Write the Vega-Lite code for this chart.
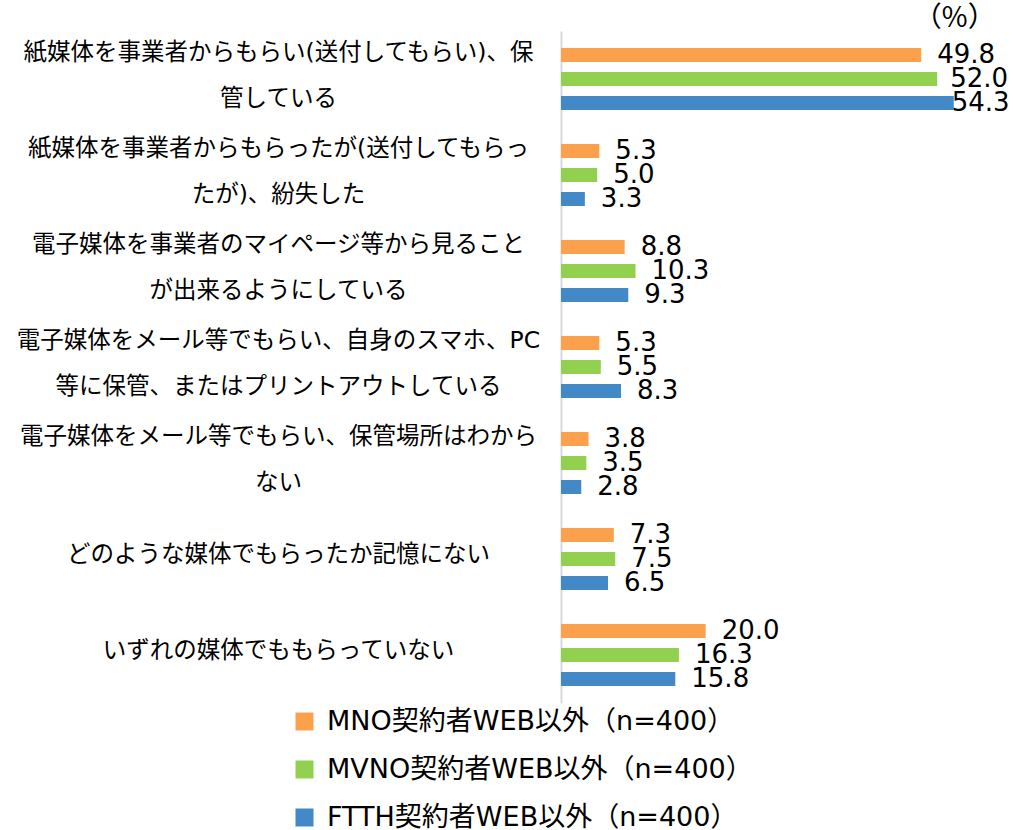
{
  "$schema": "https://vega.github.io/schema/vega-lite/v6.json",
  "width": 434,
  "height": 672,
  "autosize": {"type": "none"},
  "padding": {"left": 561, "top": 31, "right": 18, "bottom": 127},
  "background": "white",
  "config": {
    "view": {"stroke": null},
    "font": "DejaVu Sans, Noto Sans CJK JP"
  },
  "title": {
    "text": "（%）",
    "anchor": "end",
    "orient": "top",
    "offset": 0,
    "dx": -14,
    "dy": 2,
    "fontSize": 28,
    "fontWeight": "normal",
    "font": "Noto Sans CJK JP",
    "color": "#000000"
  },
  "data": {
    "values": [
      {"cat": "紙媒体を事業者からもらい(送付してもらい)、保|管している", "series": "MNO契約者WEB以外（n=400）", "value": 49.8},
      {"cat": "紙媒体を事業者からもらい(送付してもらい)、保|管している", "series": "MVNO契約者WEB以外（n=400）", "value": 52.0},
      {"cat": "紙媒体を事業者からもらい(送付してもらい)、保|管している", "series": "FTTH契約者WEB以外（n=400）", "value": 54.3},
      {"cat": "紙媒体を事業者からもらったが(送付してもらっ|たが)、紛失した", "series": "MNO契約者WEB以外（n=400）", "value": 5.3},
      {"cat": "紙媒体を事業者からもらったが(送付してもらっ|たが)、紛失した", "series": "MVNO契約者WEB以外（n=400）", "value": 5.0},
      {"cat": "紙媒体を事業者からもらったが(送付してもらっ|たが)、紛失した", "series": "FTTH契約者WEB以外（n=400）", "value": 3.3},
      {"cat": "電子媒体を事業者のマイページ等から見ること|が出来るようにしている", "series": "MNO契約者WEB以外（n=400）", "value": 8.8},
      {"cat": "電子媒体を事業者のマイページ等から見ること|が出来るようにしている", "series": "MVNO契約者WEB以外（n=400）", "value": 10.3},
      {"cat": "電子媒体を事業者のマイページ等から見ること|が出来るようにしている", "series": "FTTH契約者WEB以外（n=400）", "value": 9.3},
      {"cat": "電子媒体をメール等でもらい、自身のスマホ、PC|等に保管、またはプリントアウトしている", "series": "MNO契約者WEB以外（n=400）", "value": 5.3},
      {"cat": "電子媒体をメール等でもらい、自身のスマホ、PC|等に保管、またはプリントアウトしている", "series": "MVNO契約者WEB以外（n=400）", "value": 5.5},
      {"cat": "電子媒体をメール等でもらい、自身のスマホ、PC|等に保管、またはプリントアウトしている", "series": "FTTH契約者WEB以外（n=400）", "value": 8.3},
      {"cat": "電子媒体をメール等でもらい、保管場所はわから|ない", "series": "MNO契約者WEB以外（n=400）", "value": 3.8},
      {"cat": "電子媒体をメール等でもらい、保管場所はわから|ない", "series": "MVNO契約者WEB以外（n=400）", "value": 3.5},
      {"cat": "電子媒体をメール等でもらい、保管場所はわから|ない", "series": "FTTH契約者WEB以外（n=400）", "value": 2.8},
      {"cat": "どのような媒体でもらったか記憶にない", "series": "MNO契約者WEB以外（n=400）", "value": 7.3},
      {"cat": "どのような媒体でもらったか記憶にない", "series": "MVNO契約者WEB以外（n=400）", "value": 7.5},
      {"cat": "どのような媒体でもらったか記憶にない", "series": "FTTH契約者WEB以外（n=400）", "value": 6.5},
      {"cat": "いずれの媒体でももらっていない", "series": "MNO契約者WEB以外（n=400）", "value": 20.0},
      {"cat": "いずれの媒体でももらっていない", "series": "MVNO契約者WEB以外（n=400）", "value": 16.3},
      {"cat": "いずれの媒体でももらっていない", "series": "FTTH契約者WEB以外（n=400）", "value": 15.8}
    ]
  },
  "encoding": {
    "y": {
      "field": "cat",
      "type": "nominal",
      "sort": null,
      "scale": {"paddingInner": 0, "paddingOuter": 0},
      "axis": {
        "title": null,
        "domain": true,
        "domainColor": "#d9d9d9",
        "domainWidth": 2,
        "ticks": false,
        "tickSize": 0,
        "grid": false,
        "labelPadding": 283,
        "labelAlign": "center",
        "labelBaseline": "middle",
        "labelFontSize": 23.5,
        "labelLineHeight": 46,
        "labelLimit": 0,
        "labelOffset": {"condition": {"test": "indexof(datum.value, '|') >= 0", "value": -26}, "value": -4},
        "labelColor": "#000000",
        "labelFont": "DejaVu Sans, Noto Sans CJK JP",
        "labelExpr": "split(datum.value, '|')"
      }
    },
    "yOffset": {
      "field": "series",
      "type": "nominal",
      "sort": null,
      "scale": {"paddingInner": 0.4167, "paddingOuter": 0.708}
    },
    "x": {
      "field": "value",
      "type": "quantitative",
      "scale": {"domain": [0, 60], "nice": false, "zero": true},
      "axis": null
    }
  },
  "layer": [
    {
      "mark": {"type": "bar", "clip": false},
      "encoding": {
        "color": {
          "field": "series",
          "type": "nominal",
          "sort": null,
          "scale": {
            "domain": ["MNO契約者WEB以外（n=400）", "MVNO契約者WEB以外（n=400）", "FTTH契約者WEB以外（n=400）"],
            "range": ["#FBA04B", "#92D050", "#4389C8"]
          },
          "legend": {
            "title": null,
            "orient": "none",
            "legendX": -270,
            "legendY": 677,
            "direction": "vertical",
            "symbolType": "square",
            "symbolSize": 324,
            "symbolStrokeWidth": 0,
            "symbolOpacity": 1,
            "labelFontSize": 27,
            "labelFont": "DejaVu Sans, Noto Sans CJK JP",
            "labelColor": "#000000",
            "labelLimit": 0,
            "labelOffset": 9,
            "rowPadding": 20
          }
        }
      }
    },
    {
      "mark": {
        "type": "text",
        "align": "left",
        "baseline": "middle",
        "dx": {"expr": "datum.value > 53 ? -2 : datum.value > 51 ? 13 : 16"},
        "fontSize": 26,
        "font": "DejaVu Sans",
        "color": "#000000"
      },
      "encoding": {
        "text": {"field": "value", "type": "quantitative", "format": ".1f"}
      }
    }
  ]
}
